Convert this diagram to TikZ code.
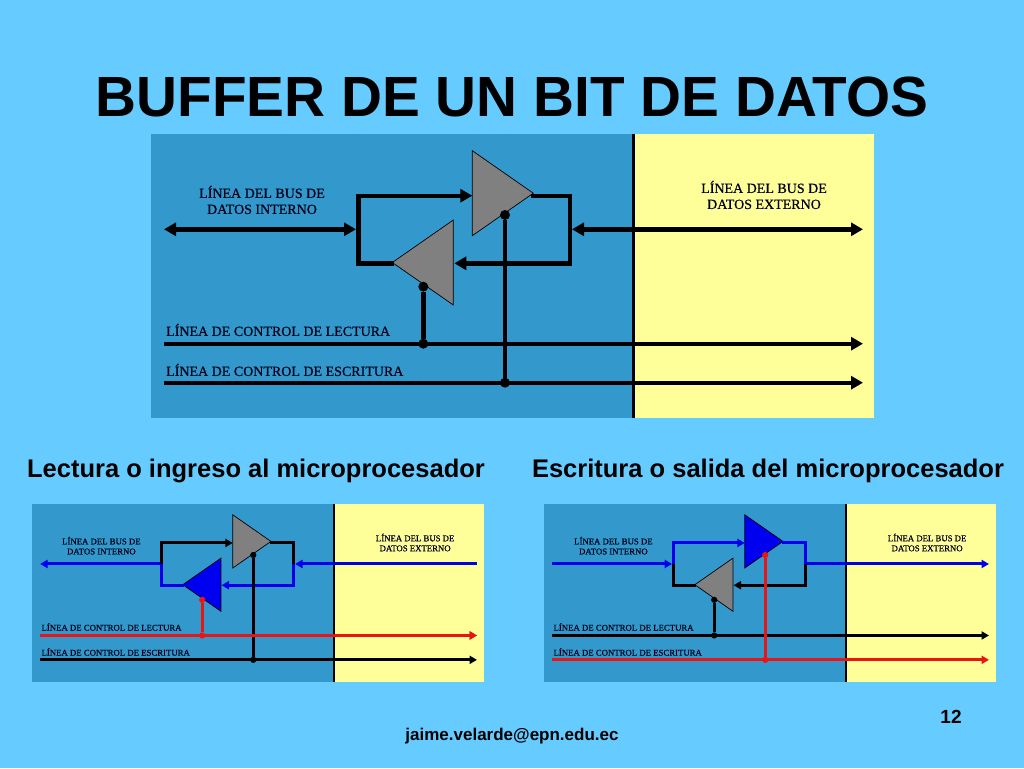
\documentclass[tikz,border=0pt]{standalone}
\usepackage{fontspec}
\setmainfont{Liberation Sans}
\newfontfamily\panelfont[FakeBold=0.5]{Liberation Serif}
\usepackage{tikz}
\usetikzlibrary{arrows.meta,shapes.geometric}
\definecolor{slidebg}{RGB}{102,204,255}
\definecolor{panelblue}{RGB}{51,153,204}
\definecolor{panelyellow}{RGB}{255,255,153}
\definecolor{gategray}{RGB}{128,128,128}
\definecolor{busblue}{RGB}{0,0,240}
\definecolor{ctrlred}{RGB}{235,20,20}
\tikzset{
  wire/.style={line width=\lw pt},
  gate/.style={isosceles triangle,isosceles triangle stretches,draw=black,line width=0.7pt,
    inner sep=0pt,outer sep=0pt,minimum width=\tw pt,minimum height=\tl pt},
  joint/.style={circle,inner sep=0pt,minimum size=\ds pt},
  paneltext/.style={font=\panelfont\fontsize{\fs pt}{\ls pt}\selectfont,align=center,text=black!90!blue},
  twoway/.style={<->},
  inward/.style={<-},
  outward/.style={->}
}
\begin{document}
\begin{tikzpicture}[x=1pt,y=-1pt]
  \useasboundingbox[fill=slidebg] (0,0) rectangle (1024,768);
  \node[font=\bfseries\fontsize{56.7}{64}\selectfont] (title) at (512,97) {BUFFER DE UN BIT DE DATOS};
  \node[font=\bfseries\fontsize{21.5}{26}\selectfont,scale=1.186] (readcap) at (256,471) {Lectura o ingreso al microprocesador};
  \node[font=\bfseries\fontsize{21.5}{26}\selectfont,scale=1.186] (writecap) at (768,471) {Escritura o salida del microprocesador};
  \node[font=\bfseries\fontsize{17}{20}\selectfont] (mail) at (512,736) {jaime.velarde@epn.edu.ec};
  \node[font=\bfseries\fontsize{19}{22}\selectfont] (page) at (951,717) {12};
  % One panel per row: origin, scale, loop colours, gate fills, bus, tips, control lines
  \foreach \px/\py/\sc/\cu/\cl/\fu/\fl/\cb/\tp/\crd/\cwr [count=\i] in {
    151/134/1/black/black/gategray/gategray/black/twoway/black/black,
    32/504.4/0.625/black/busblue/gategray/busblue/busblue/inward/ctrlred/black,
    544/504.4/0.625/busblue/black/busblue/gategray/busblue/outward/black/ctrlred%
  } {
    \pgfmathsetmacro{\lw}{max(4.4*\sc,3)}
    \pgfmathsetmacro{\tw}{85*\sc}
    \pgfmathsetmacro{\tl}{61*\sc}
    \pgfmathsetmacro{\ds}{10*\sc}
    \pgfmathsetmacro{\fs}{14*\sc}
    \pgfmathsetmacro{\ls}{16*\sc}
    \pgfmathsetmacro{\al}{12*\sc}
    \pgfmathsetmacro{\aw}{13*\sc}
    \begin{scope}[shift={(\px,\py)},x=\sc pt,y=-\sc pt,>={Triangle[length=\al pt,width=\aw pt]}]
      \fill[panelblue] (0,0) rectangle (482.5,284);
      \fill[panelyellow] (482.5,0) rectangle (723,284);
      \coordinate (top\i) at (482.5,0);
      \coordinate (bot\i) at (482.5,284);
      \draw[line width=3*\sc pt] (top\i) -- (bot\i);
      % gates
      \node[gate,fill=\fu,anchor=apex] (upgate\i) at (382.3,59.2) {};
      \node[gate,fill=\fl,anchor=apex,shape border rotate=180] (logate\i) at (241.3,128.5) {};
      % bus loop
      \coordinate (lj\i) at (207.3,95.3);
      \coordinate (rj\i) at (419,95.3);
      \coordinate (lin\i) at (205,95.3);
      \coordinate (rin\i) at (421,95.3);
      \coordinate (busl\i) at (13,95.3);
      \coordinate (busr\i) at (712,95.3);
      \coordinate (upin\i) at (321.3,61.7);
      \coordinate (upout\i) at (380,61.7);
      \coordinate (loin\i) at (303.3,129.3);
      \coordinate (loout\i) at (243,129.3);
      \draw[wire,draw=\cu,->] (lj\i) |- (upin\i);
      \draw[wire,draw=\cu] (upout\i) -| (rj\i);
      \draw[wire,draw=\cl,->] (rj\i) |- (loin\i);
      \draw[wire,draw=\cl] (loout\i) -| (lj\i);
      \draw[wire,draw=\cb,\tp] (busl\i) -- (lin\i);
      \draw[wire,draw=\cb,\tp] (rin\i) -- (busr\i);
      % control lines
      \coordinate (rdl\i) at (13,209.7);
      \coordinate (rdr\i) at (712,209.7);
      \coordinate (wrl\i) at (13,248.7);
      \coordinate (wrr\i) at (712,248.7);
      \draw[wire,draw=\crd,->] (rdl\i) -- (rdr\i);
      \draw[wire,draw=\cwr,->] (wrl\i) -- (wrr\i);
      \node[joint,fill=\crd] (rdfoot\i) at (272.3,209.7) {};
      \node[joint,fill=\crd] (rdhead\i) at (272.3,152.7) {};
      \node[joint,fill=\cwr] (wrfoot\i) at (354,248.7) {};
      \node[joint,fill=\cwr] (wrhead\i) at (354,81) {};
      \draw[wire,draw=\crd] (rdhead\i) -- (rdfoot\i);
      \draw[wire,draw=\cwr] (wrhead\i) -- (wrfoot\i);
      \ifnum\i=2 \draw[wire,draw=\crd,->] (rdl\i) -- (rdr\i); \fi
      % texts
      \node[paneltext] (intxt\i) at (111,66) {LÍNEA DEL BUS DE\\DATOS INTERNO};
      \node[paneltext] (extxt\i) at (613,61) {LÍNEA DEL BUS DE\\DATOS EXTERNO};
      \node[paneltext,anchor=west,inner sep=0pt] (rdtxt\i) at (15,196) {LÍNEA DE CONTROL DE LECTURA};
      \node[paneltext,anchor=west,inner sep=0pt] (wrtxt\i) at (15,236) {LÍNEA DE CONTROL DE ESCRITURA};
    \end{scope}
  }
\end{tikzpicture}
\end{document}
